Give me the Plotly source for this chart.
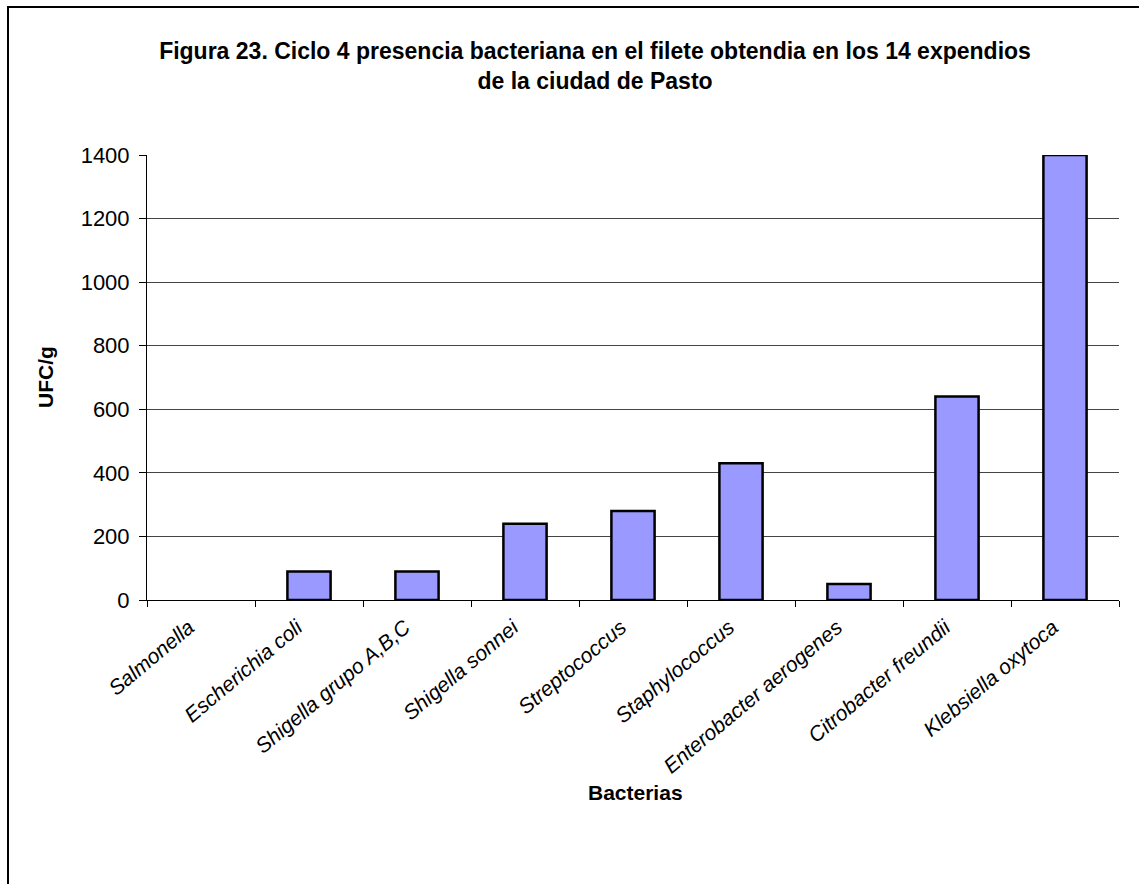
import plotly.graph_objects as go

categories = ["Salmonella", "Escherichia coli", "Shigella grupo A,B,C", "Shigella sonnei",
              "Streptococcus", "Staphylococcus", "Enterobacter aerogenes",
              "Citrobacter freundii", "Klebsiella oxytoca"]
values = [0, 90, 90, 240, 280, 430, 50, 640, 1400]
y_ticks = [0, 200, 400, 600, 800, 1000, 1200, 1400]

W, H = 1139, 884
L, R, T, B = 147, 20, 155, 284
pw, ph = W - L - R, H - T - B

def px(x):
    return (x - L) / pw

def py(y):
    return (H - B - y) / ph

fig = go.Figure(go.Bar(
    x=categories, y=values,
    marker=dict(color="#9999FF",
                line=dict(color="black", width=[0 if v == 0 else 2.5 for v in values])),
    width=0.4,
))

fig.update_layout(
    width=W, height=H,
    margin=dict(l=L, r=R, t=T, b=B),
    plot_bgcolor="white", paper_bgcolor="white",
    font=dict(family="Arial, Liberation Sans, sans-serif", color="black"),
    showlegend=False,
    title=dict(
        text="<b>Figura 23. Ciclo 4 presencia bacteriana en el filete obtendia en los 14 expendios<br>de la ciudad de Pasto</b>",
        x=595 / W, xref="container", xanchor="center",
        y=1 - 59 / H, yref="container", yanchor="middle",
        font=dict(size=23),
    ),
    xaxis=dict(
        tickangle=-40,
        tickfont=dict(size=21, style="italic"),
        showline=True, linecolor="black", linewidth=1,
        ticks="outside", ticklen=6, tickcolor="black",
        tickson="boundaries",
        ticklabelstandoff=6,
        ticklabelshift=-12,
    ),
    yaxis=dict(
        range=[0, 1400],
        tickvals=y_ticks,
        tickfont=dict(size=22),
        showline=True, linecolor="black", linewidth=1,
        ticks="outside", ticklen=7, tickcolor="black",
        ticklabelstandoff=5,
        showgrid=True, gridcolor="#444444", gridwidth=1,
        zeroline=False,
    ),
    annotations=[
        dict(text="<b>Bacterias</b>", xref="paper", yref="paper",
             x=px(635), y=py(792), xanchor="center", yanchor="middle",
             showarrow=False, font=dict(size=21)),
        dict(text="<b>UFC/g</b>", xref="paper", yref="paper",
             x=px(45), y=py(377), xanchor="center", yanchor="middle",
             textangle=-90, showarrow=False, font=dict(size=21)),
    ],
    shapes=[dict(type="rect", xref="paper", yref="paper",
                 x0=px(8), x1=px(1150), y0=py(895), y1=py(7),
                 line=dict(color="black", width=2), layer="above")],
)

fig.write_html("out.html")
